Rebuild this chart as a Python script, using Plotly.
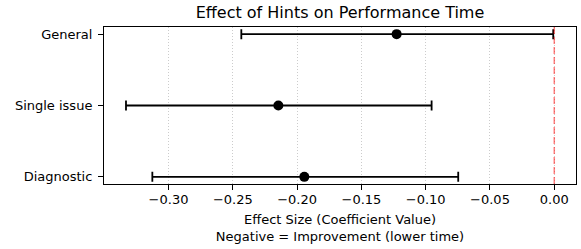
import plotly.graph_objects as go

categories = ["Diagnostic", "Single issue", "General"]
estimates = [-0.1944, -0.2146, -0.1226]
ci_lower = [-0.3126, -0.3331, -0.2434]
ci_upper = [-0.0747, -0.0954, -0.0008]
x_tickvals = [-0.30, -0.25, -0.20, -0.15, -0.10, -0.05, 0.00]
x_ticktext = ["\u22120.30", "\u22120.25", "\u22120.20", "\u22120.15", "\u22120.10", "\u22120.05", "0.00"]

ypos = list(range(len(categories)))
err_plus = [u - e for u, e in zip(ci_upper, estimates)]
err_minus = [e - l for e, l in zip(estimates, ci_lower)]

FONT = "DejaVu Sans"
W, H = 581, 249

fig = go.Figure()
fig.add_trace(go.Scatter(
    x=estimates, y=ypos, mode="markers",
    marker=dict(color="black", size=10),
    error_x=dict(type="data", array=err_plus, arrayminus=err_minus,
                 color="black", thickness=1.8, width=5),
    showlegend=False, hoverinfo="skip",
))

fig.add_shape(type="line", xref="x", yref="paper", x0=0, x1=0, y0=0, y1=1,
              line=dict(color="rgba(255,0,0,0.5)", width=1.5, dash="7px,3px"))

fig.update_layout(
    width=W, height=H,
    margin=dict(l=104, r=5, t=27, b=65),
    paper_bgcolor="white", plot_bgcolor="white",
    font=dict(family=FONT, size=13, color="black"),
    title=dict(text="Effect of Hints on Performance Time", xref="paper", x=0.5, xanchor="center",
               y=1 - 12.5 / H, yanchor="middle", font=dict(size=16, family=FONT)),
    xaxis=dict(
        range=[-0.3502, 0.0169],
        tickvals=x_tickvals, ticktext=x_ticktext,
        ticks="outside", ticklen=5, tickwidth=1, tickcolor="black",
        showline=True, linecolor="black", linewidth=1, mirror=True,
        showgrid=True, gridcolor="rgba(170,170,170,0.6)", griddash="1px,2px", gridwidth=1,
        zeroline=False,
        ticklabelstandoff=-2,
        title=dict(text="Effect Size (Coefficient Value)<br>Negative = Improvement (lower time)",
                   font=dict(size=13), standoff=9),
        tickfont=dict(size=13),
    ),
    yaxis=dict(
        range=[-0.1, 2.1],
        tickvals=ypos, ticktext=categories,
        ticks="outside", ticklen=5, tickwidth=1, tickcolor="black",
        showline=True, linecolor="black", linewidth=1, mirror=True,
        showgrid=False, zeroline=False,
        ticklabelstandoff=3,
        tickfont=dict(size=13),
    ),
)

fig.write_html("out.html", config={"displayModeBar": False},
               post_script="document.body.style.margin='0';document.body.style.overflow='hidden';")
